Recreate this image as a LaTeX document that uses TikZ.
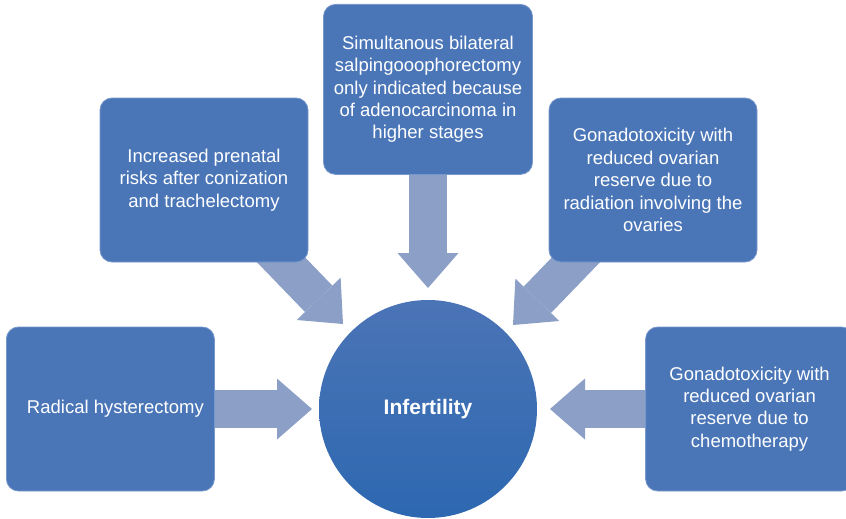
\documentclass[tikz,border=0pt]{standalone}
\usepackage{fontspec}
\setmainfont{Liberation Sans}
\usepackage{tikz}
\usetikzlibrary{positioning}
\usetikzlibrary{arrows.meta}
\usetikzlibrary{backgrounds}
\definecolor{boxblue}{HTML}{4A76B8}
\definecolor{arrowblue}{HTML}{8C9FC7}
\definecolor{circtop}{HTML}{4B74B6}
\definecolor{circbot}{HTML}{2D68B0}
\tikzset{
    reason/.style={rectangle, rounded corners=12pt, fill=boxblue, draw=boxblue!75!white,
        line width=0.8pt, text=white, align=center, inner sep=0pt,
        minimum width=208pt, minimum height=164pt, font=\fontsize{18.5}{22.4}\selectfont},
    fat/.style={arrowblue, line width=38pt,
        -{Triangle[width=61pt, length=35pt, line width=0pt]}},
}

\begin{document}
\begin{tikzpicture}[x=1pt, y=-1pt]
        \useasboundingbox (0, 0) rectangle (846, 519);
        \clip (0, 0) rectangle (846, 519);

        \node[circle, minimum size=218pt, top color=circtop, bottom color=circbot, text=white,
            font=\fontsize{21}{25}\selectfont\bfseries] (inf) at (428, 409) {Infertility};

        \node[reason] (radical) [left=104pt of inf] {\hspace*{10pt}Radical hysterectomy};
        \node[reason] (chemo) [right=108pt of inf] {Gonadotoxicity with\\reduced ovarian\\reserve due to\\chemotherapy};
        \node[reason, minimum width=209pt, minimum height=170pt] (sbso) [above=125pt of inf]
            {Simultanous bilateral\\salpingooophorectomy\\only indicated because\\of adenocarcinoma in\\higher stages};
        \node[reason] (prenatal) at (204, 180) {Increased prenatal\\risks after conization\\and trachelectomy};
        \node[reason] (radiation) at (653, 180) {Gonadotoxicity with\\reduced ovarian\\reserve due to\\radiation involving the\\ovaries};

        \coordinate (tipW) at (312, 409);
        \coordinate (tipE) at (550, 409);
        \coordinate (tipN) at (428, 288);
        \coordinate (tipNW) at (343, 324);
        \coordinate (tipNE) at (513, 325);

        \begin{scope}[on background layer]
            \draw[fat] (radical.center) -- (tipW);
            \draw[fat] (chemo.center) -- (tipE);
            \draw[fat] (sbso.center) -- (tipN);
            \draw[fat] (prenatal.center) -- (tipNW);
            \draw[fat] (radiation.center) -- (tipNE);
        \end{scope}

    \end{tikzpicture}
\end{document}
